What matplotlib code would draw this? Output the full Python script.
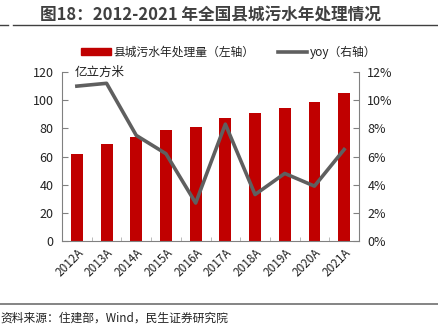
import matplotlib
matplotlib.use("Agg")
import matplotlib.pyplot as plt
import numpy as np
from matplotlib.lines import Line2D
from matplotlib.patches import Patch

plt.rcParams['font.family'] = ['Noto Sans CJK SC', 'DejaVu Sans']

years = ['2012A', '2013A', '2014A', '2015A', '2016A', '2017A', '2018A', '2019A', '2020A', '2021A']
volume = [61.8, 68.9, 73.9, 78.6, 80.7, 87.6, 90.7, 94.7, 98.5, 104.9]
yoy = [11.0, 11.2, 7.5, 6.2, 2.7, 8.3, 3.3, 4.8, 3.9, 6.5]

red = '#C00000'
gray = '#5F5F5F'
axc = '#808080'
txt = '#222222'

fig = plt.figure(figsize=(4.38, 3.32), dpi=100)
ax = fig.add_axes([0.1416, 0.274, 0.678, 0.509])
x = np.arange(len(years))
ax.bar(x, volume, width=0.4, color=red, zorder=2)
ax.set_ylim(0, 120)
ax.set_yticks(range(0, 121, 20))
ax.set_xlim(-0.5, len(years) - 0.5)
ax.set_xticks(x)
ax.set_xticklabels(years, rotation=45, ha='right', rotation_mode='anchor', fontsize=8.5, color=txt)
ax.set_xticks(np.arange(-0.5, len(years), 1), minor=True)
ax.tick_params(axis='x', which='major', length=0, pad=4)
ax.tick_params(axis='x', which='minor', length=3, direction='in', color='#B0B0B0')
ax.tick_params(axis='y', direction='in', length=4, color=axc, labelsize=9, labelcolor=txt, pad=6)
for s in ['top', 'right']:
    ax.spines[s].set_visible(False)
for s in ['left', 'bottom']:
    ax.spines[s].set_color(axc)

ax2 = ax.twinx()
ax2.plot(x, yoy, color=gray, lw=2.6, zorder=3)
ax2.set_ylim(0, 12)
ax2.set_yticks(range(0, 13, 2))
ax2.set_yticklabels([f'{v}%' for v in range(0, 13, 2)])
ax2.tick_params(axis='y', direction='in', length=4, color=axc, labelsize=9, labelcolor=txt, pad=6)
for s in ['top', 'left', 'bottom']:
    ax2.spines[s].set_visible(False)
ax2.spines['right'].set_color(axc)

ax2.text(0.044, 1.0, '亿立方米', transform=ax.transAxes, fontsize=9, color=txt, va='center', ha='left',
         zorder=5)

handles = [Patch(color=red), Line2D([0], [0], color=gray, lw=2.6)]
fig.legend(handles, ['县城污水年处理量（左轴）', 'yoy（右轴）'], loc='center', bbox_to_anchor=(0.522, 0.843),
           ncol=2, frameon=False, fontsize=8.5, handlelength=2.5, handleheight=0.5, columnspacing=2.0,
           handletextpad=0.2, labelcolor=txt)

fig.text(0.091, 0.952, '图18：2012-2021 年全国县城污水年处理情况', fontsize=12, fontweight='bold',
         color='#404040', va='center', ha='left')
fig.add_artist(Line2D([0.0, 0.019], [0.924, 0.924], color='#404040', lw=1, transform=fig.transFigure))
fig.add_artist(Line2D([0.03, 1.0], [0.924, 0.924], color='#404040', lw=1, transform=fig.transFigure))
fig.add_artist(Line2D([0.0, 1.0], [0.084, 0.084], color='#707070', lw=1.2, transform=fig.transFigure))
fig.text(0.0, 0.042, '资料来源：住建部，Wind，民生证券研究院', fontsize=8.5, color=txt, va='center', ha='left')

fig.savefig('out.png', dpi=100)
